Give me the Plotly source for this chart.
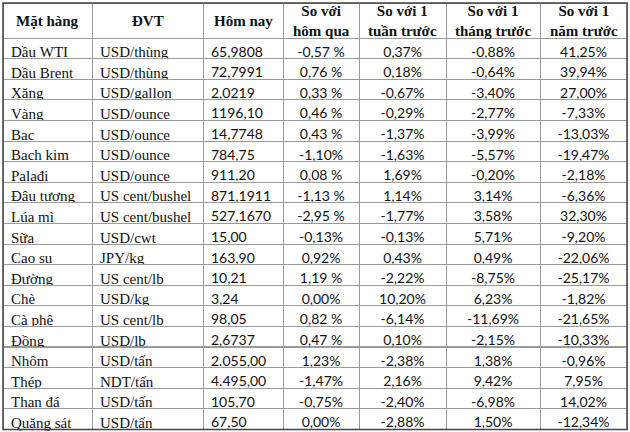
import plotly.graph_objects as go

headers = ["Mặt hàng", "ĐVT", "Hôm nay", "So với<br>hôm qua", "So với 1<br>tuần trước",
           "So với 1<br>tháng trước", "So với 1<br>năm trước"]

mat_hang = ["Dầu WTI", "Dầu Brent", "Xăng", "Vàng", "Bạc", "Bạch kim", "Palađi", "Đậu tương",
            "Lúa mì", "Sữa", "Cao su", "Đường", "Chè", "Cà phê", "Đồng", "Nhôm", "Thép",
            "Than đá", "Quặng sát"]
dvt = ["USD/thùng", "USD/thùng", "USD/gallon", "USD/ounce", "USD/ounce", "USD/ounce", "USD/ounce",
       "US cent/bushel", "US cent/bushel", "USD/cwt", "JPY/kg", "US cent/lb", "USD/kg",
       "US cent/lb", "USD/lb", "USD/tấn", "NDT/tấn", "USD/tấn", "USD/tấn"]
hom_nay = ["65,9808", "72,7991", "2,0219", "1196,10", "14,7748", "784,75", "911,20", "871,1911",
           "527,1670", "15,00", "163,90", "10,21", "3,24", "98,05", "2,6737", "2.055,00",
           "4.495,00", "105,70", "67,50"]
hom_qua = ["-0,57 %", "0,76 %", "0,33 %", "0,46 %", "0,43 %", "-1,10%", "0,08 %", "-1,13 %",
           "-2,95 %", "-0,13%", "0,92%", "1,19 %", "0,00%", "0,82 %", "0,47 %", "1,23%",
           "-1,47%", "-0,75%", "0,00%"]
tuan = ["0,37%", "0,18%", "-0,67%", "-0,29%", "-1,37%", "-1,63%", "1,69%", "1,14%", "-1,77%",
        "-0,13%", "0,43%", "-2,22%", "10,20%", "-6,14%", "0,10%", "-2,38%", "2,16%", "-2,40%",
        "-2,88%"]
thang = ["-0,88%", "-0,64%", "-3,40%", "-2,77%", "-3,99%", "-5,57%", "-0,20%", "3,14%", "3,58%",
         "5,71%", "0,49%", "-8,75%", "6,23%", "-11,69%", "-2,15%", "1,38%", "9,42%", "-6,98%",
         "1,50%"]
nam = ["41,25%", "39,94%", "27,00%", "-7,33%", "-13,03%", "-19,47%", "-2,18%", "-6,36%", "32,30%",
       "-9,20%", "-22,06%", "-25,17%", "-1,82%", "-21,65%", "-10,33%", "-0,96%", "7,95%",
       "14,02%", "-12,34%"]

col_w = [89, 111, 80, 76, 87, 94, 87]
serif = "Liberation Serif"
sans = "Lato"
W, H = 630, 432
left, top, head_h, row_h = 3, 3, 35, 20.6
grid = "#9a9a9a"

# keep text on one line
nb = lambda arr: [s.replace(" ", "\u00a0") for s in arr]

x0 = left / W
x1 = (left + sum(col_w)) / W
y1 = 1 - top / H
bottom = top + head_h + row_h * len(mat_hang)

fig = go.Figure(go.Table(
    domain=dict(x=[x0, x1], y=[0, y1]),
    columnwidth=col_w,
    header=dict(
        values=[""] * len(headers),
        height=head_h,
        fill_color="white",
        line=dict(color=grid, width=1),
    ),
    cells=dict(
        values=[nb(mat_hang), nb(dvt), hom_nay, nb(hom_qua), tuan, thang, nam],
        height=row_h,
        align=["left", "left", "left", "center", "center", "center", "center"],
        font=dict(family=[serif, serif, sans, sans, sans, sans, sans],
                  size=[15, 15, 14, 14, 14, 14, 14], color="#111"),
        fill_color="white",
        line=dict(color=grid, width=1),
    ),
))

# header labels, centred in each header cell
cx = left
for h, w in zip(headers, col_w):
    fig.add_annotation(x=(cx + w / 2) / W, y=1 - (top + head_h / 2) / H,
                       xref="paper", yref="paper", text="<b>%s</b>" % h,
                       showarrow=False, xanchor="center", yanchor="middle",
                       font=dict(family=serif, size=15, color="#111"))
    cx += w

# darker outer frame
fig.add_shape(type="rect", xref="paper", yref="paper",
              x0=x0, x1=x1, y0=1 - bottom / H, y1=y1,
              line=dict(color="#444", width=1.5))

fig.update_layout(width=W, height=H, margin=dict(l=0, r=0, t=0, b=0),
                  paper_bgcolor="white", plot_bgcolor="white")

fig.write_html("out.html", config={"displayModeBar": False},
               post_script="document.body.style.margin='0';")
